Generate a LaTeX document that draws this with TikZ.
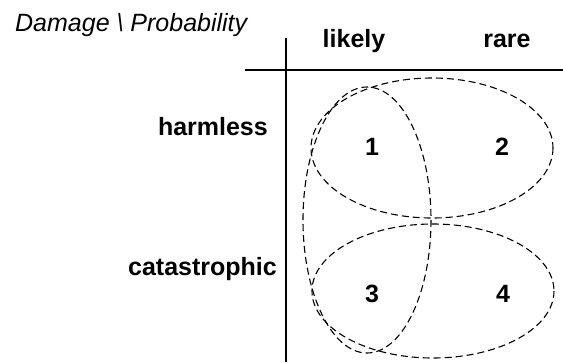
\documentclass[tikz,border=0pt]{standalone}
\usepackage{fontspec}
\setmainfont{Liberation Sans}
\tikzset{
  label/.style={font=\fontsize{25}{30}\selectfont\bfseries, inner sep=0pt},
  region/.style={dash pattern=on 7pt off 4pt, line width=1.1pt}
}
\begin{document}
\begin{tikzpicture}[x=1pt, y=-1pt]

  \useasboundingbox (0,0) rectangle (563,362);

  % Table lines
  \draw[line width=2pt] (286,38) -- (286,362);
  \draw[line width=2pt] (245,70) -- (563,70);

  % Headings
  \node[inner sep=0pt, anchor=base west, font=\fontsize{25}{30}\selectfont\itshape]
    (head) at (15,31) {Damage \textbackslash{} Probability};
  \node[label, anchor=base] (likely) at (354,47) {likely};
  \node[label, anchor=base] (rare) at (507,47) {rare};
  \node[label, anchor=base east] (harmless) at (268,135) {harmless};
  \node[label, anchor=base east] (catastrophic) at (277,275) {catastrophic};

  % Regions
  \draw[region] (432,148) ellipse (121 and 70);
  \draw[region] (433,291) ellipse (121 and 67);
  \draw[region] (367,220) ellipse (64 and 133);

  % Cells
  \node[label, anchor=base] (c1) at (372,155) {1};
  \node[label, anchor=base] (c2) at (502,155) {2};
  \node[label, anchor=base] (c3) at (372,302) {3};
  \node[label, anchor=base] (c4) at (503,302) {4};

\end{tikzpicture}
\end{document}
